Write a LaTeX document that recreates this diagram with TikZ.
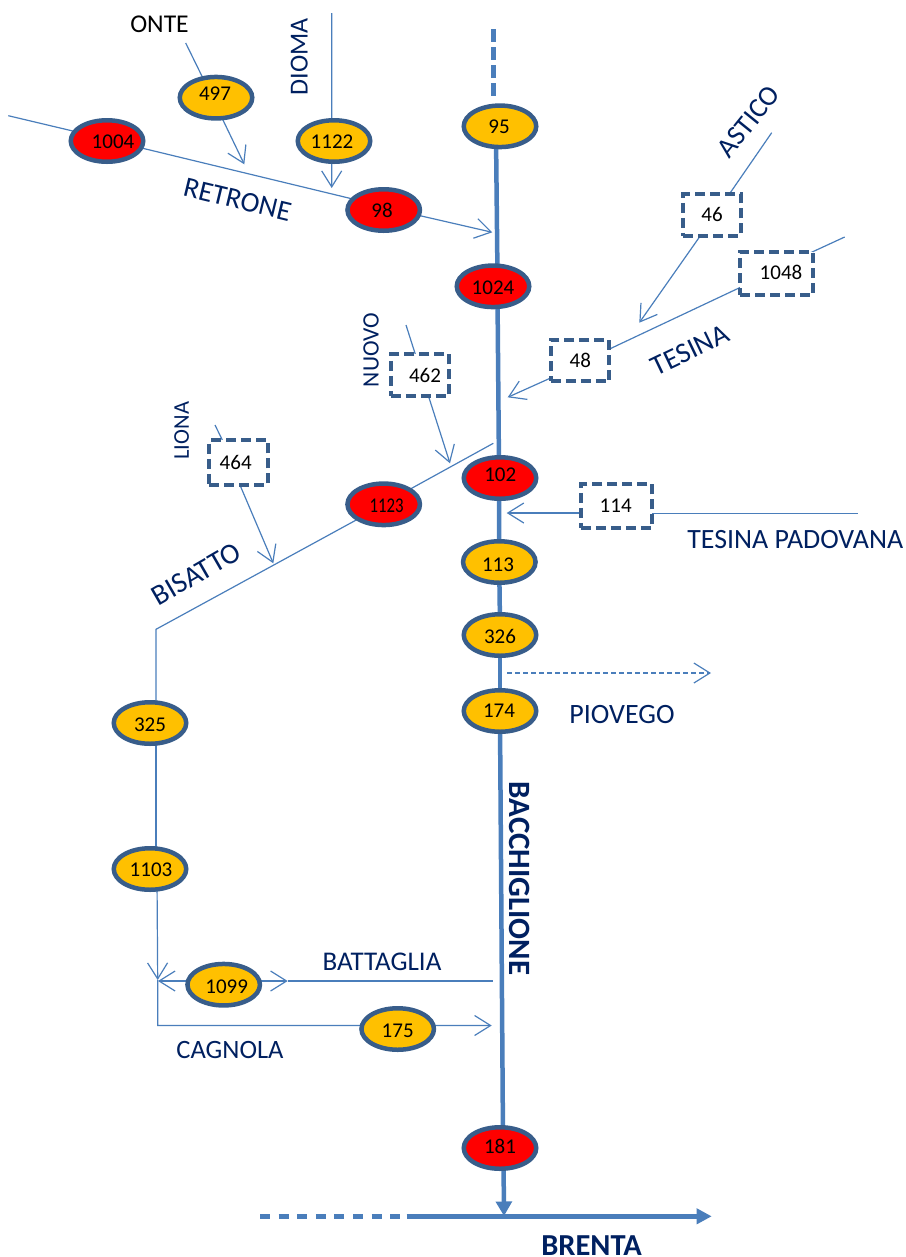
\documentclass[tikz,border=0pt]{standalone}
\usepackage{fontspec}
\usepackage{graphicx}
\setmainfont{Carlito}
\usetikzlibrary{shapes.geometric,arrows.meta}
\pgfdeclarelayer{bg}
\pgfsetlayers{bg,main}
\definecolor{edgeblue}{HTML}{385D8A}
\definecolor{lineblue}{HTML}{4A7EBB}
\definecolor{amber}{HTML}{FFC000}
\definecolor{navy}{HTML}{002060}
\newcommand\nt[3]{\kern#1bp\smash{\makebox[0pt]{\raisebox{\dimexpr-#2bp-0.317em\relax}{#3}}}\kern-#1bp\relax}
\newcommand\fs[1]{\fontsize{#1bp}{#1bp}\selectfont}
\tikzset{
  x=1bp,y=-1bp,
  oval/.style={ellipse,draw=edgeblue,line width=4.5bp,minimum width=72.5bp,minimum height=41.5bp,inner sep=0pt,text=black,font=\fs{21}},
  ovalY/.style={oval,fill=amber},
  ovalR/.style={oval,fill=red},
  dbox/.style={rectangle,draw=edgeblue,fill=white,line width=4bp,dash pattern=on 10bp off 5bp,inner sep=0pt,text=black,font=\fs{21}},
  thinline/.style={draw=lineblue,line width=1.2bp},
  barb/.style={thinline,-{Straight Barb[length=16bp,width=20bp]}},
  mainline/.style={draw=lineblue,line width=4.5bp},
  river/.style={text=navy,inner sep=0pt,font=\fs{26.5}},
  riverB/.style={text=navy,inner sep=0pt,font=\fs{31}\bfseries},
}
\begin{document}
\begin{tikzpicture}
\useasboundingbox (0,0) rectangle (906,1257);
% stations
\node[ovalR] (n1004) at (107,141) {\nt{6}{1}{1004}};
\node[ovalY] (n497) at (216,97.7) {\nt{-1}{-3.7}{497}};
\node[ovalY] (n1122) at (334,141) {\nt{-2}{1}{1122}};
\node[ovalR] (n98) at (383.7,210) {\nt{-1.7}{1}{98}};
\node[ovalY] (n95) at (500,126.3) {\nt{-1}{0.4}{95}};
\node[ovalR] (n1024) at (493,286.3) {\nt{0}{1.7}{1024}};
\node[ovalR] (n102) at (500,478) {\nt{0.3}{-3}{102}};
\node[ovalR] (n1123) at (383.7,504.3) {\nt{3}{1.7}{\scalebox{0.8}[1]{1123}}};
\node[ovalY] (n113) at (499.3,562) {\nt{-1.3}{3}{113}};
\node[ovalY] (n326) at (500,635) {\nt{0}{2}{326}};
\node[ovalY] (n174) at (500,711) {\nt{-1}{0}{174}};
\node[ovalY] (n325) at (150,723) {\nt{0}{2}{325}};
\node[ovalY] (n1103) at (150,869) {\nt{1}{1}{1103}};
\node[ovalY] (n1099) at (223.7,984.7) {\nt{3}{2.3}{1099}};
\node[ovalY] (n175) at (397.7,1029) {\nt{0}{1.7}{175}};
\node[ovalR] (n181) at (500,1148) {\nt{0}{-1.3}{181}};
% dashed boxes
\node[dbox,minimum width=57.5bp,minimum height=41.5bp] (n46) at (712,215) {\nt{0}{0}{46}};
\node[dbox,minimum width=72.5bp,minimum height=43.5bp] (n1048) at (776.7,273.3) {\nt{4.3}{-0.6}{1048}};
\node[dbox,minimum width=58.5bp,minimum height=41.5bp] (n48) at (580,360.7) {\nt{0.3}{0}{48}};
\node[dbox,minimum width=71.5bp,minimum height=43.5bp] (n114) at (616.7,506) {\nt{-1}{0}{114}};
\node[dbox,minimum width=58.5bp,minimum height=41.5bp] (n462) at (420,375) {\nt{5}{1}{462}};
\node[dbox,minimum width=58.5bp,minimum height=44.5bp] (n464) at (238.3,462.7) {\nt{-2.6}{0}{464}};
% free ends
\coordinate (cRetS) at (8.3,115.7);
\coordinate (cRetE) at (492.3,232.3);
\coordinate (cOnteS) at (185.7,43);
\coordinate (cOnteE) at (244.3,164.3);
\coordinate (cDioS) at (331.7,13);
\coordinate (cDioE) at (331.7,188);
\coordinate (cAstS) at (771.7,132.7);
\coordinate (cAstE) at (639.3,322.7);
\coordinate (cTesS) at (844.7,237);
\coordinate (cTesE) at (507.7,397.3);
\coordinate (cPadS) at (857.7,513.3);
\coordinate (cPadE) at (506.7,513);
\coordinate (cNuoS) at (406,325);
\coordinate (cNuoE) at (450,463.3);
\coordinate (cLioS) at (215,425);
\coordinate (cLioE) at (273.3,563.3);
\coordinate (cBisS) at (493.3,443.3);
\coordinate (cBisC) at (156,629.3);
\coordinate (cJoin) at (157.7,980);
\coordinate (cCagC) at (157.7,1025.5);
\coordinate (cCagE) at (491.7,1025.5);
\coordinate (cBatS) at (492.7,981);
\coordinate (cBatM) at (287.7,981);
\coordinate (cBatL) at (158,981);
\coordinate (cPioS) at (507,673);
\coordinate (cPioE) at (711,673);
\coordinate (cTopS) at (493.3,29);
\coordinate (cTopE) at (493.3,98.7);
\coordinate (cBreS) at (260,1216.3);
\coordinate (cBreD) at (400,1216.3);
\coordinate (cBreM) at (406.7,1216.3);
\coordinate (cBreE) at (711.7,1216.3);
\coordinate (cMouth) at (504,1216);
\begin{pgfonlayer}{bg}
% Retrone
\draw[thinline] (cRetS) -- ([shift={(-30,-9)}]n1004.center);
\draw[thinline] ([shift={(30,5.9)}]n1004.center) -- ([shift={(-29.7,-10.7)}]n98.center);
\draw[barb] ([shift={(30.3,4.3)}]n98.center) -- (cRetE);
% Onte, Dioma
\draw[thinline] (cOnteS) -- ([shift={(-9.7,-12.7)}]n497.center);
\draw[barb] ([shift={(3.1,14.3)}]n497.center) -- (cOnteE);
\draw[thinline] (cDioS) -- ([shift={(-2.3,-10)}]n1122.center);
\draw[barb] ([shift={(-2.3,10)}]n1122.center) -- (cDioE);
% Astico, Tesina
\draw[thinline] (cAstS) -- ([shift={(9.8,-10)}]n46.center);
\draw[barb] ([shift={(-4.1,10)}]n46.center) -- (cAstE);
\draw[thinline] (cTesS) -- ([shift={(28.3,-18)}]n1048.center);
\draw[thinline] ([shift={(-26.7,9.5)}]n1048.center) -- ([shift={(20,-7.2)}]n48.center);
\draw[barb] ([shift={(-20,13.1)}]n48.center) -- (cTesE);
% Tesina Padovana
\draw[thinline] (cPadS) -- ([shift={(20,7.3)}]n114.center);
\draw[barb] ([shift={(-20,7)}]n114.center) -- (cPadE);
% Nuovo, Liona
\draw[thinline] (cNuoS) -- ([shift={(-2.2,-13)}]n462.center);
\draw[barb] ([shift={(5.9,13)}]n462.center) -- (cNuoE);
\draw[thinline] (cLioS) -- ([shift={(-11.1,-12.7)}]n464.center);
\draw[barb] ([shift={(-2.6,12.3)}]n464.center) -- (cLioE);
% Bisatto
\draw[thinline] (cBisS) -- ([shift={(16.3,-9.6)}]n1123.center);
\draw[thinline] ([shift={(-18.7,10.9)}]n1123.center) -- (cBisC) -- ([shift={(6,-10)}]n325.center);
\draw[thinline] ([shift={(6,10)}]n325.center) -- ([shift={(6,-10)}]n1103.center);
\draw[barb] ([shift={(7,10)}]n1103.center) -- (cJoin);
% Cagnola
\draw[thinline] (cJoin) -- (cCagC) -- ([shift={(-20,-3.5)}]n175.center);
\draw[barb] ([shift={(20,-3.5)}]n175.center) -- (cCagE);
% Battaglia
\draw[thinline] (cBatS) -- (cBatM);
\draw[barb] ([shift={(20,-3.7)}]n1099.center) -- (cBatM);
\draw[barb] ([shift={(-20,-3.7)}]n1099.center) -- (cBatL);
% Piovego
\draw[barb,dash pattern=on 5bp off 3bp] (cPioS) -- (cPioE);
% main river
\draw[mainline,dash pattern=on 13bp off 5bp] (cTopS) -- (cTopE);
\draw[mainline] ([shift={(-4,10)}]n95.center) -- ([shift={(4.5,-10)}]n1024.center);
\draw[mainline] ([shift={(4.5,10)}]n1024.center) -- ([shift={(-1,-10)}]n102.center);
\draw[mainline] ([shift={(-1,10)}]n102.center) -- ([shift={(0,-10)}]n113.center);
\draw[mainline] ([shift={(0,10)}]n113.center) -- ([shift={(0,-10)}]n326.center);
\draw[mainline] ([shift={(0,10)}]n326.center) -- ([shift={(0,-10)}]n174.center);
\draw[mainline] ([shift={(0,10)}]n174.center) -- ([shift={(3,-10)}]n181.center);
\draw[mainline,-{Triangle[length=14.5bp,width=15.7bp]}] ([shift={(3.5,10)}]n181.center) -- (cMouth);
% Brenta
\draw[mainline,dash pattern=on 10bp off 8.6bp] (cBreS) -- (cBreD);
\draw[mainline,-{Triangle[length=15bp,width=15bp]}] (cBreM) -- (cBreE);
\end{pgfonlayer}
% labels
\node[river,text=black,font=\fs{25.6}] (lOnte) at (159.5,24) {ONTE};
\node[river,font=\fs{26},rotate=90] (lDioma) at (299.3,56.7) {DIOMA};
\node[river,font=\fs{28.5},rotate=-13.6] (lRetrone) at (237.5,199.5) {RETRONE};
\node[river,font=\fs{28},rotate=51] (lAstico) at (748.3,121.7) {ASTICO};
\node[river,font=\fs{28.5},rotate=25.6] (lTesina) at (690,350) {TESINA};
\node[river,font=\fs{27.9}] (lPadovana) at (795.3,539.3) {TESINA PADOVANA};
\node[river,font=\fs{23.5},rotate=90] (lNuovo) at (371,350) {NUOVO};
\node[river,font=\fs{22.5},rotate=90] (lLiona) at (181.7,430.7) {LIONA};
\node[river,font=\fs{29},rotate=30] (lBisatto) at (196.5,574) {BISATTO};
\node[river,font=\fs{28}] (lPiovego) at (622,714) {PIOVEGO};
\node[riverB,rotate=-90] (lBacch) at (520,878.5) {BACCHIGLIONE};
\node[river,font=\fs{27}] (lBattaglia) at (382,961.7) {BATTAGLIA};
\node[river,font=\fs{26.5}] (lCagnola) at (230,1049.7) {CAGNOLA};
\node[riverB,font=\fs{30.5}\bfseries] (lBrenta) at (591.5,1245.5) {BRENTA};
\end{tikzpicture}
\end{document}
